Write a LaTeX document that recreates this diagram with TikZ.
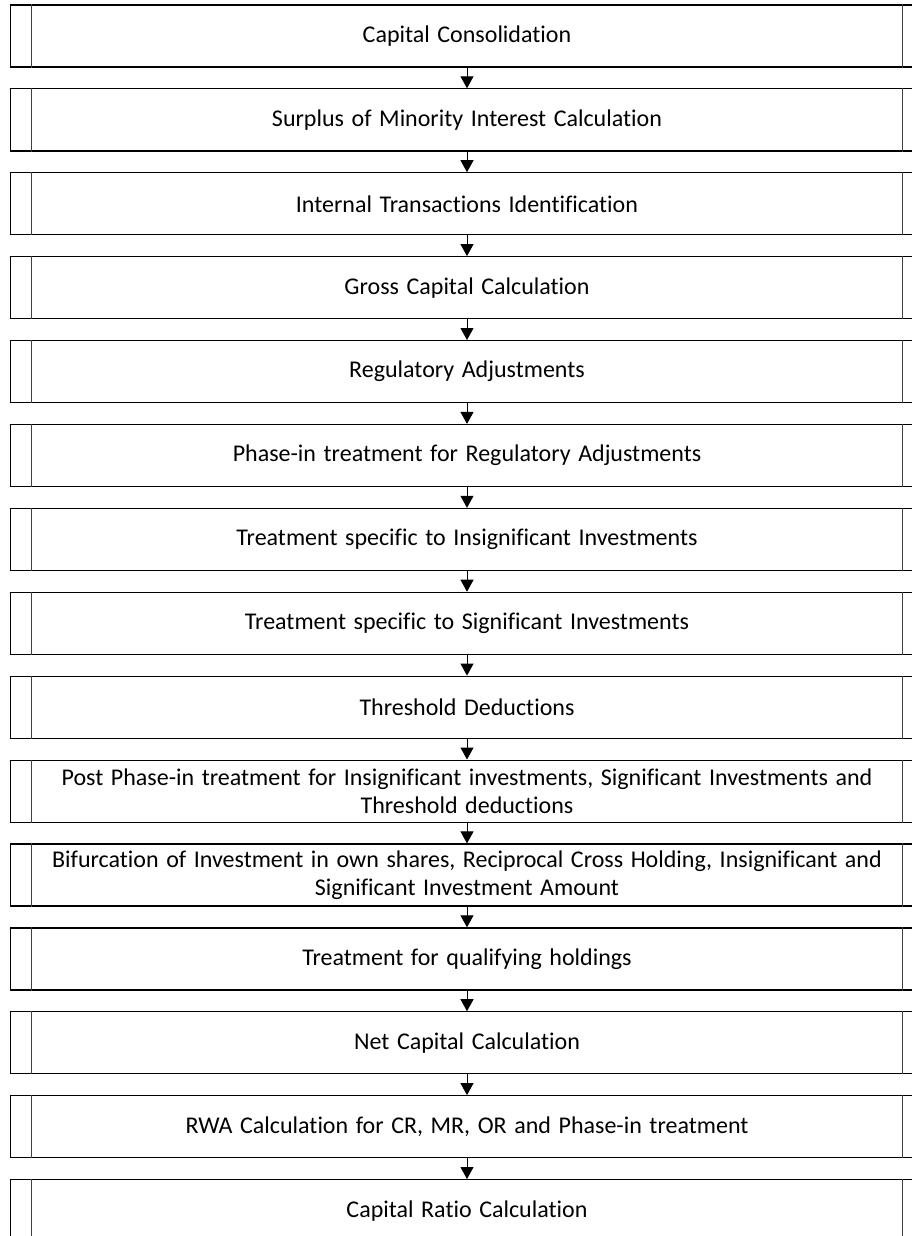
\documentclass[tikz,border=0pt]{standalone}
\usepackage{fontspec}
\setmainfont{Carlito}[Ligatures=NoCommon, WordSpace={1.4,1,1}]
\usetikzlibrary{arrows.meta,calc}
\tikzset{
  procbox/.style={draw=black, line width=1.2pt, rectangle, minimum width=913pt, minimum height=62pt,
    inner sep=0pt, align=center, font=\fontsize{24}{28}\selectfont},
  innerline/.style={draw=black!75, line width=0.9pt},
  flowarrow/.style={draw=black, line width=1pt, -{Triangle[width=13pt,length=12pt]}}
}
\begin{document}
\begin{tikzpicture}[x=1pt,y=-1pt]
\useasboundingbox (0,0) rectangle (912,1236);
\clip (0,0) rectangle (912,1236);
\foreach \k/\t in {
  0/{Capital Consolidation},
  1/{Surplus of Minority Interest Calculation},
  2/{Internal Transactions Identification},
  3/{Gross Capital Calculation},
  4/{Regulatory Adjustments},
  5/{Phase-in treatment for Regulatory Adjustments},
  6/{Treatment specific to Insignificant Investments},
  7/{Treatment specific to Significant Investments},
  8/{Threshold Deductions},
  9/{Post Phase-in treatment for Insignificant investments, Significant Investments and\\Threshold deductions},
  10/{Bifurcation of Investment in own shares, Reciprocal Cross Holding, Insignificant and\\Significant Investment Amount},
  11/{Treatment for qualifying holdings},
  12/{Net Capital Calculation},
  13/{RWA Calculation for CR, MR, OR and Phase-in treatment},
  14/{Capital Ratio Calculation}} {
  \node[procbox] (b\k) at (467, {36+\k*83.9}) {\t};
  \draw[innerline] ($(b\k.north west)+(21.5,0)$) -- ($(b\k.south west)+(21.5,0)$);
  \draw[innerline] ($(b\k.north east)+(-21.5,0)$) -- ($(b\k.south east)+(-21.5,0)$);
}
\foreach \a/\b in {0/1,1/2,2/3,3/4,4/5,5/6,6/7,7/8,8/9,9/10,10/11,11/12,12/13,13/14} {
  \draw[flowarrow] (b\a.south) -- (b\b.north);
}
\end{tikzpicture}
\end{document}
